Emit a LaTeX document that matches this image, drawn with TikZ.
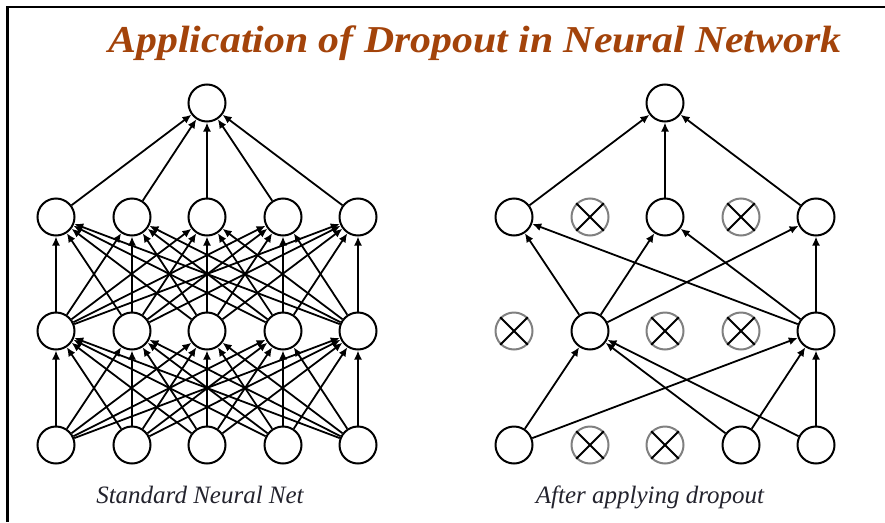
\documentclass[tikz,border=0pt]{standalone}
\usepackage{fontspec}
\setmainfont{Liberation Serif}
\usetikzlibrary{arrows.meta}
\definecolor{titlebrown}{RGB}{163,67,10}
\definecolor{captiongray}{RGB}{35,35,45}
\tikzset{
  neuron/.style={circle,draw=black,line width=2pt,minimum size=37pt,inner sep=0pt,fill=white},
  dropped/.style={circle,draw=black!50,line width=2pt,minimum size=37pt,inner sep=0pt,fill=white},
  conn/.style={line width=1.8pt,-{Latex[length=9pt,width=8pt]}},
  crossline/.style={line width=1.8pt,black},
  caption/.style={font=\fontsize{25}{27}\selectfont\itshape,text=captiongray},
  frameline/.style={line width=2.5pt,black}
}
\begin{document}
\begin{tikzpicture}[x=1pt,y=-1pt]
\useasboundingbox (0,0) rectangle (885,522);
% frame
\coordinate (fa) at (885,7);
\coordinate (fb) at (7.5,7);
\coordinate (fc) at (7.5,522);
\draw[frameline] (fa) -- (fb) -- (fc);
% title
\node[font=\fontsize{38}{40}\selectfont\bfseries\itshape,text=titlebrown] (title) at (475,43) {\scalebox{1.1}[1]{Application of Dropout in Neural Network}};

% ---------- left network ----------
\node[neuron] (Lt) at (207,103) {};
\foreach \i/\x in {1/56,2/132,3/207,4/283,5/358}{
  \node[neuron] (Lh2\i) at (\x,217) {};
  \node[neuron] (Lh1\i) at (\x,331) {};
  \node[neuron] (Lin\i) at (\x,445) {};
}
\foreach \i in {1,...,5}{
  \draw[conn] (Lh2\i) -- (Lt);
  \foreach \j in {1,...,5}{
    \draw[conn] (Lh1\i) -- (Lh2\j);
    \draw[conn] (Lin\i) -- (Lh1\j);
  }
}
\node[caption] (Lcap) at (200,495) {Standard Neural Net};

% ---------- right network ----------
\node[neuron] (Rt) at (665,103) {};
\node[neuron] (Rh21) at (514,217) {};
\node[dropped] (Rh22) at (590,217) {};
\node[neuron] (Rh23) at (665,217) {};
\node[dropped] (Rh24) at (741,217) {};
\node[neuron] (Rh25) at (816,217) {};
\node[dropped] (Rh11) at (514,331) {};
\node[neuron] (Rh12) at (590,331) {};
\node[dropped] (Rh13) at (665,331) {};
\node[dropped] (Rh14) at (741,331) {};
\node[neuron] (Rh15) at (816,331) {};
\node[neuron] (Rin1) at (514,445) {};
\node[dropped] (Rin2) at (590,445) {};
\node[dropped] (Rin3) at (665,445) {};
\node[neuron] (Rin4) at (741,445) {};
\node[neuron] (Rin5) at (816,445) {};
\foreach \n in {Rh22,Rh24,Rh11,Rh13,Rh14,Rin2,Rin3}{
  \draw[crossline] (\n.north east) -- (\n.south west);
  \draw[crossline] (\n.north west) -- (\n.south east);
}
\foreach \a in {Rh21,Rh23,Rh25}{
  \draw[conn] (\a) -- (Rt);
  \foreach \b in {Rh12,Rh15}{
    \draw[conn] (\b) -- (\a);
  }
}
\foreach \a in {Rh12,Rh15}{
  \foreach \b in {Rin1,Rin4,Rin5}{
    \draw[conn] (\b) -- (\a);
  }
}
\node[caption] (Rcap) at (650,497) {After applying dropout};
\end{tikzpicture}
\end{document}
